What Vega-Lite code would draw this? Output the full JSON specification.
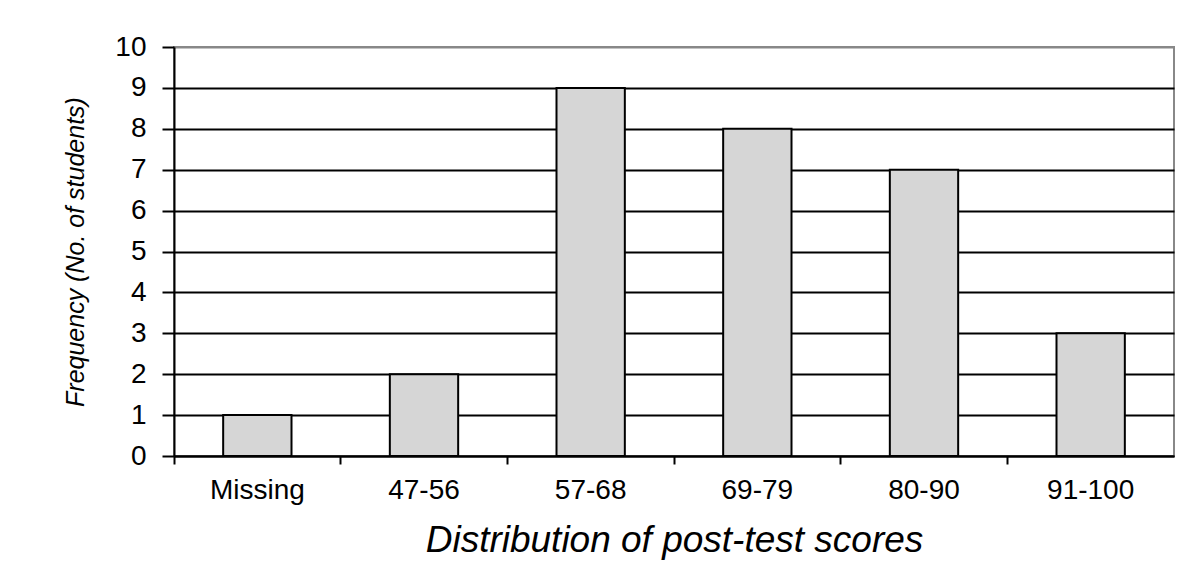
{
  "$schema": "https://vega.github.io/schema/vega-lite/v6.json",
  "width": 1000,
  "height": 409,
  "autosize": {"type": "none"},
  "padding": {"left": 174, "top": 47, "right": 17, "bottom": 131},
  "background": "white",
  "config": {
    "font": "Liberation Sans",
    "view": {"stroke": "#888888", "strokeWidth": 2}
  },
  "data": {
    "values": [
      {"range": "Missing", "freq": 1},
      {"range": "47-56", "freq": 2},
      {"range": "57-68", "freq": 9},
      {"range": "69-79", "freq": 8},
      {"range": "80-90", "freq": 7},
      {"range": "91-100", "freq": 3}
    ]
  },
  "mark": {"type": "bar", "width": {"band": 0.41}, "fill": "#d6d6d6", "stroke": "black", "strokeWidth": 2},
  "encoding": {
    "x": {
      "field": "range",
      "type": "nominal",
      "sort": null,
      "scale": {"paddingInner": 0, "paddingOuter": 0},
      "axis": {
        "title": "Distribution of post-test scores",
        "titleFont": "Liberation Sans",
        "titleFontSize": 37,
        "titleFontStyle": "italic",
        "titleFontWeight": "normal",
        "titleColor": "black",
        "titlePadding": 18,
        "labelAngle": 0,
        "labelFontSize": 28,
        "labelColor": "black",
        "labelPadding": 12,
        "bandPosition": 0,
        "tickSize": 8,
        "tickWidth": 2,
        "tickColor": "black",
        "domainColor": "black",
        "domainWidth": 2
      }
    },
    "y": {
      "field": "freq",
      "type": "quantitative",
      "scale": {"domain": [0, 10]},
      "axis": {
        "title": "Frequency (No. of students)",
        "titleFont": "Liberation Sans",
        "titleFontSize": 25,
        "titleFontStyle": "italic",
        "titleFontWeight": "normal",
        "titleColor": "black",
        "titlePadding": 26,
        "values": [0, 1, 2, 3, 4, 5, 6, 7, 8, 9, 10],
        "labelFontSize": 28,
        "labelColor": "black",
        "labelPadding": 16,
        "tickSize": 12,
        "tickWidth": 2,
        "tickColor": "black",
        "domainColor": "black",
        "domainWidth": 2,
        "grid": true,
        "gridColor": {"condition": {"test": "datum.value == 10", "value": "#888888"}, "value": "black"},
        "gridWidth": 2,
        "gridOpacity": 1
      }
    }
  }
}
